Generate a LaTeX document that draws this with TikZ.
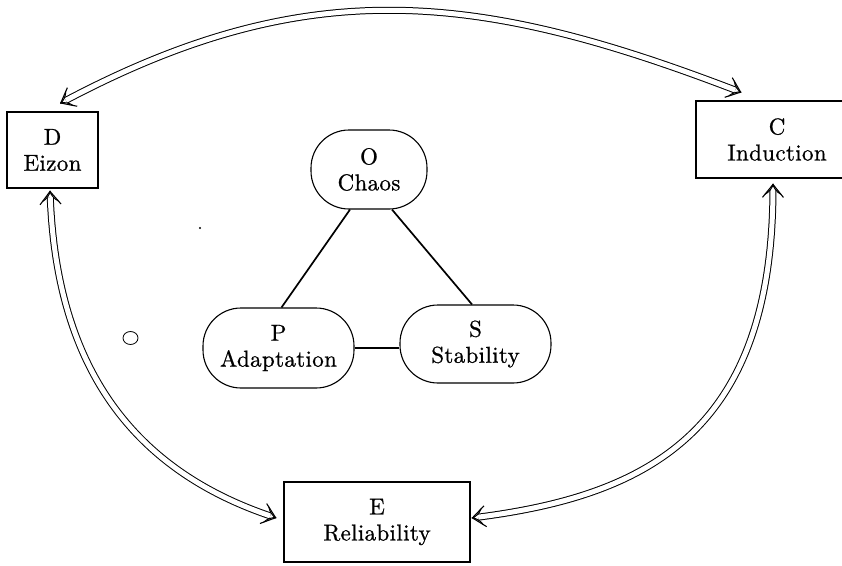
\documentclass[tikz,border=0pt]{standalone}
\usepackage{fontspec}
\usetikzlibrary{arrows.meta,calc}
\newfontfamily\dgface{lmroman10-regular.otf}[LetterSpace=1.5, FakeBold=0.8]
\newcommand\dgfont{\dgface\fontsize{23}{26}\selectfont}
\begin{document}
\begin{tikzpicture}[x=1pt,y=-1pt,
  box/.style={draw, line width=1.1pt, align=center, inner sep=0pt, font=\dgfont},
  pill/.style={draw, line width=1.1pt, rounded corners=38pt, align=center, inner sep=0pt, font=\dgfont},
  link/.style={line width=1.7pt},
  twoway/.style={double, double distance=5pt, line width=1pt, {Implies}-{Implies}},
  barb/.style={line width=1.1pt, -{Straight Barb[length=13pt, width=21pt]}}]
  \fill[white] (0,0) rectangle (842,565);
  \useasboundingbox (0,0) rectangle (842,565);

  % outer ring of boxes
  \node[box, minimum width=91pt, minimum height=76pt] (D) at (52.5,150) {D\\Eizon};
  \node[box, minimum width=162pt, minimum height=77pt] (C) at (777,139.5) {C\\Induction};
  \node[box, minimum width=186pt, minimum height=80pt] (E) at (377,522) {E\\Reliability};

  % inner triangle
  \node[pill, minimum width=116pt, minimum height=79pt] (O) at (369,169.5) {O\\Chaos};
  \node[pill, minimum width=151pt, minimum height=80pt] (P) at (278.5,348) {P\\Adaptation};
  \node[pill, minimum width=151pt, minimum height=78pt] (S) at (475.5,344) {S\\Stability};

  \draw[link] ([xshift=-19pt]O.south) -- ([xshift=3pt]P.north);
  \draw[link] ([xshift=23pt]O.south) -- ([xshift=-3.5pt]S.north);
  \draw[link] (P.east) -- (S.west |- P.east);

  % end points and bends of the double arrows
  \coordinate (dTop) at ([shift={(7.5,-8)}]D.north);
  \coordinate (cTop) at ([shift={(46,-8)}]C.north west);
  \coordinate (dBot) at ([shift={(-2.5,2)}]D.south);
  \coordinate (eLeft) at ([shift={(-7,-4)}]E.west);
  \coordinate (cBot) at ([shift={(-4,5)}]C.south);
  \coordinate (eRight) at ([shift={(1,-4)}]E.east);
  \coordinate (a1) at (309,-28);  \coordinate (a2) at (479,-8);
  \coordinate (b1) at (57,370);   \coordinate (b2) at (135,470);
  \coordinate (c1) at (772,430);  \coordinate (c2) at (650,495);

  % double-line arrows between the boxes
  \draw[twoway] (dTop) .. controls (a1) and (a2) .. (cTop);
  \draw[twoway] (dBot) .. controls (b1) and (b2) .. (eLeft);
  \draw[twoway] (cBot) .. controls (c1) and (c2) .. (eRight);

  % open barbs at each arrow end
  \draw[barb] ($(dTop)!2pt!(a1)$) -- (dTop);
  \draw[barb] ($(cTop)!2pt!(a2)$) -- (cTop);
  \draw[barb] ($(dBot)!2pt!(b1)$) -- (dBot);
  \draw[barb] ($(eLeft)!2pt!(b2)$) -- (eLeft);
  \draw[barb] ($(cBot)!2pt!(c1)$) -- (cBot);
  \draw[barb] ($(eRight)!2pt!(c2)$) -- (eRight);

  % stray marks
  \coordinate (ring) at (130.5,338);
  \draw[line width=0.8pt] (ring) ellipse [x radius=7.5pt, y radius=6.5pt];
  \coordinate (speck) at (200,228);
  \fill (speck) circle [radius=1.2pt];
\end{tikzpicture}
\end{document}
